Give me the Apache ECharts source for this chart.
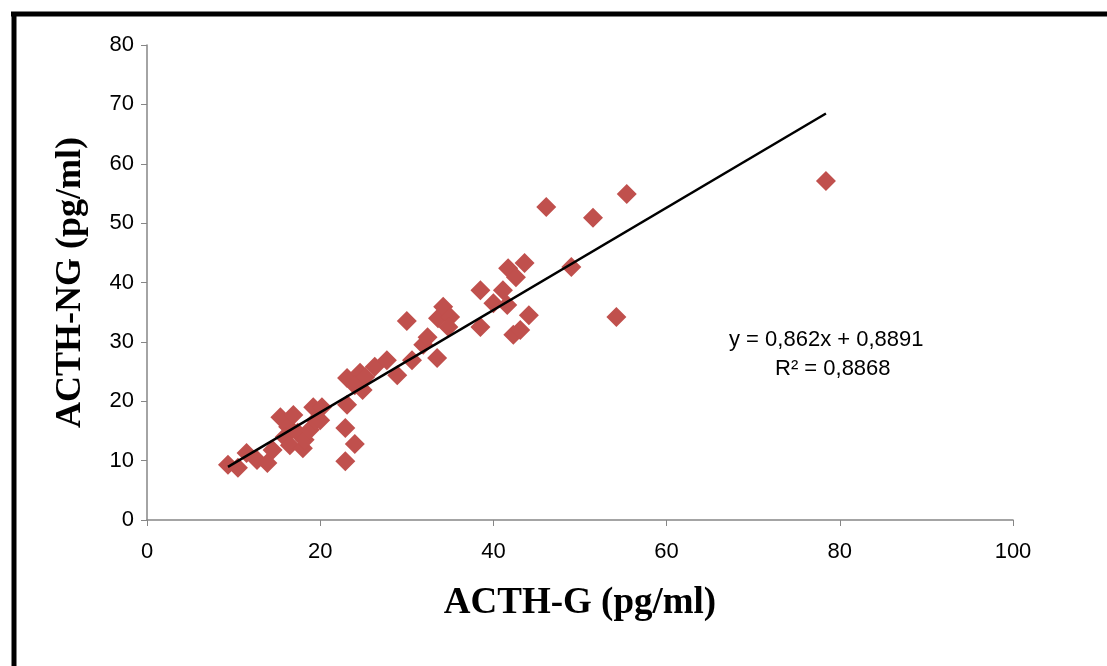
<!DOCTYPE html>
<html>
<head>
<meta charset="utf-8">
<script src="https://cdn.jsdelivr.net/npm/echarts@6/dist/echarts.min.js"></script>
<style>html,body{margin:0;padding:0;background:#fff}#c{width:1107px;height:666px}</style>
</head>
<body>
<div id="c"></div>
<script>
const acthG = [9.35,10.5,11.5,12.7,13.9,14.5,15.4,16.3,16.9,15.9,17.4,16.5,18.0,18.2,18.8,19.2,19.5,20.2,20.0,22.9,22.9,24.0,23.1,23.1,24.6,24.9,24.0,25.2,26.3,27.7,28.9,30.6,30.0,31.9,32.4,33.5,33.6,34.2,35.0,34.8,38.5,38.5,40.0,41.1,41.6,41.7,42.6,42.3,43.1,43.6,44.1,46.1,49.0,51.5,54.2,55.4,78.4];
const acthNG = [9.3,8.8,11.3,10.1,9.6,11.8,17.3,15.7,17.7,14.0,14.7,12.6,12.1,13.5,15.2,19.0,16.8,19.0,16.8,9.9,15.5,12.8,19.4,23.9,24.8,21.9,22.7,24.1,25.8,26.9,24.4,26.9,33.5,29.5,30.8,27.3,34.0,35.9,34.2,32.5,32.5,38.7,36.5,38.7,36.2,42.4,40.9,31.2,32.0,43.3,34.5,52.7,42.6,50.9,34.2,54.9,57.1];
const slope = 0.862, intercept = 0.8891;
const xTicks = [0,20,40,60,80,100];
const yTicks = [0,10,20,30,40,50,60,70,80];
const eqText = 'y = 0,862x + 0,8891';
const r2Text = 'R² = 0,8868';

const pts = acthG.map((x,i)=>[x, acthNG[i]]);
const xmin = Math.min(...acthG), xmax = Math.max(...acthG);
const trend = [[xmin, slope*xmin+intercept],[xmax, slope*xmax+intercept]];

const chart = echarts.init(document.getElementById('c'));
chart.setOption({
  animation:false,
  backgroundColor:'#fff',
  grid:{left:147,right:94,top:45,bottom:146},
  xAxis:{type:'value',min:xTicks[0],max:xTicks[xTicks.length-1],interval:xTicks[1]-xTicks[0],
    name:'ACTH-G (pg/ml)',nameLocation:'middle',nameGap:65,
    nameTextStyle:{fontFamily:'Liberation Serif',fontWeight:'bold',fontSize:37,color:'#000'},
    axisLine:{lineStyle:{color:'#868686',width:1.5}},
    axisTick:{show:true,length:6,lineStyle:{color:'#868686'}},
    axisLabel:{fontFamily:'Liberation Sans',fontSize:22,color:'#000',margin:21},
    splitLine:{show:false}},
  yAxis:{type:'value',min:yTicks[0],max:yTicks[yTicks.length-1],interval:yTicks[1]-yTicks[0],
    name:'ACTH-NG (pg/ml)',nameLocation:'middle',nameGap:58,nameRotate:90,
    nameTextStyle:{fontFamily:'Liberation Serif',fontWeight:'bold',fontSize:36,color:'#000'},
    axisLine:{show:true,lineStyle:{color:'#868686',width:1.5}},
    axisTick:{show:true,length:6,lineStyle:{color:'#868686'}},
    axisLabel:{fontFamily:'Liberation Sans',fontSize:22,color:'#000',margin:13},
    splitLine:{show:false}},
  series:[
    {type:'scatter',data:pts,symbol:'diamond',symbolSize:20,
     itemStyle:{color:'#C0504D',opacity:1},z:2},
    {type:'line',data:trend,symbol:'none',lineStyle:{color:'#000',width:2.5},z:3}
  ],
  graphic:[
    {type:'line',shape:{x1:11,y1:14,x2:1107,y2:14},style:{stroke:'#000',lineWidth:5}},
    {type:'line',shape:{x1:14,y1:12,x2:14,y2:666},style:{stroke:'#000',lineWidth:5}},
    {type:'text',left:729,top:329,style:{text:eqText,fontFamily:'Liberation Sans',fontSize:22,fill:'#000'}},
    {type:'text',left:775,top:358,style:{text:r2Text,fontFamily:'Liberation Sans',fontSize:22,fill:'#000'}}
  ]
});
</script>
</body>
</html>
